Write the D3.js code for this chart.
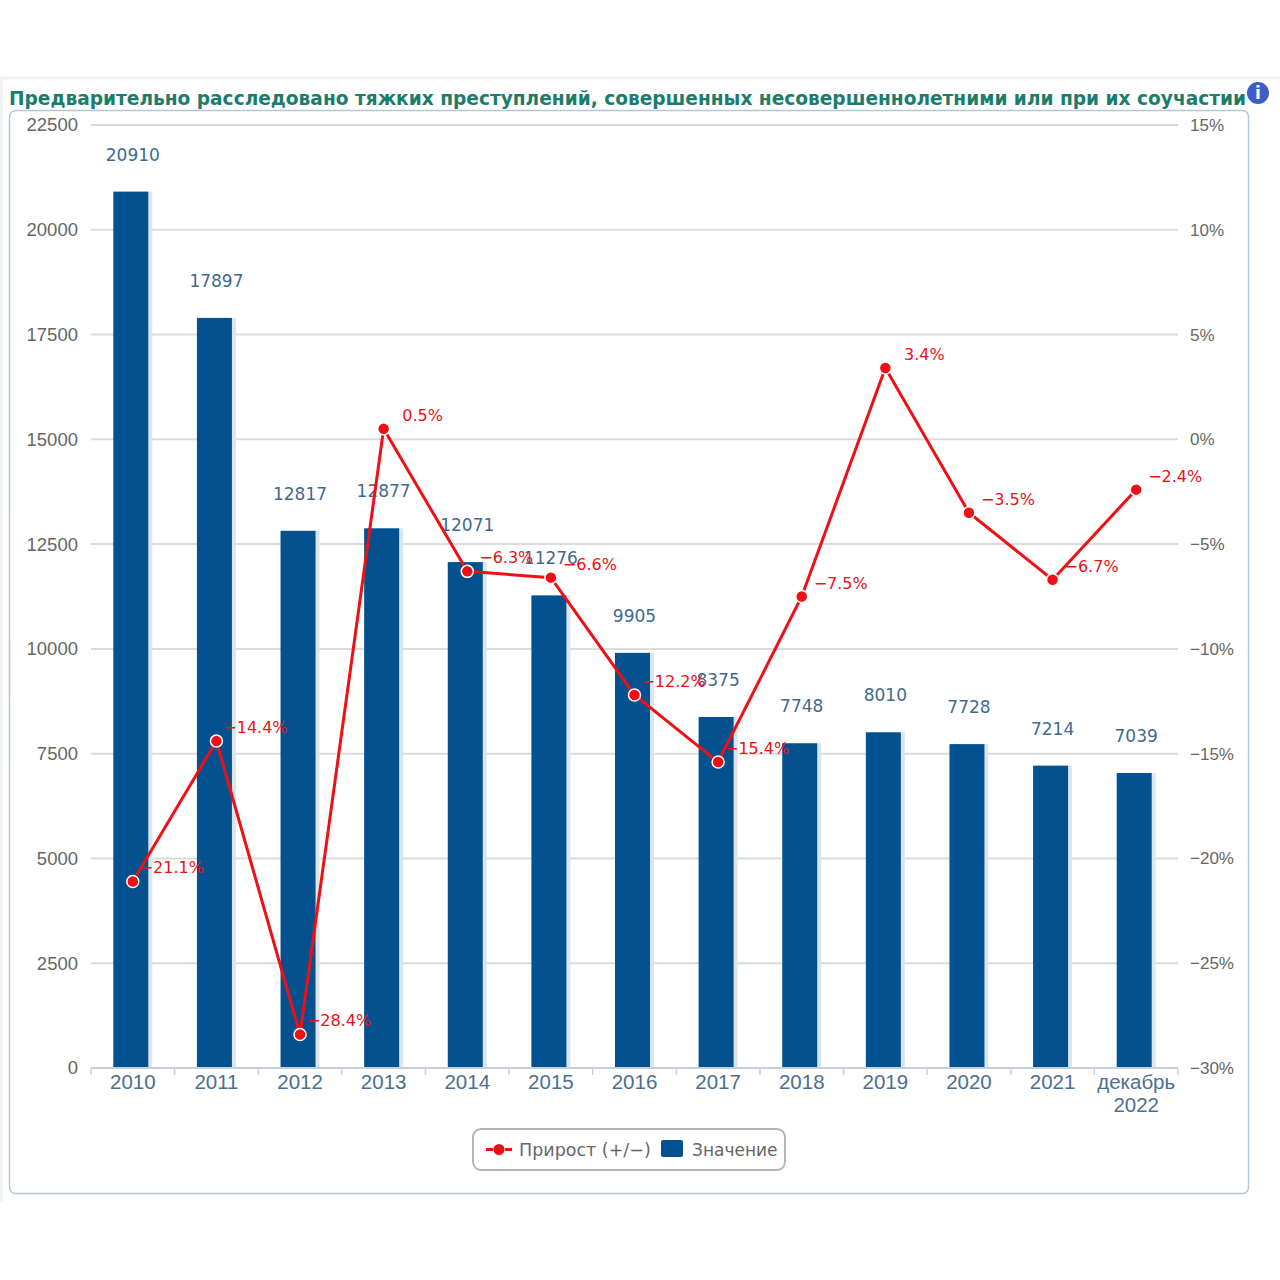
<!doctype html>
<html>
<head>
<meta charset="utf-8" />
<title>chart</title>
<script src="https://cdn.jsdelivr.net/npm/d3@7"></script>
<style>
  html, body { margin: 0; background: #fff; }
  svg { display: block; font-family: "DejaVu Sans", sans-serif; }
</style>
</head>
<body>
<script>
const title = 'Предварительно расследовано тяжких преступлений, совершенных несовершеннолетними или при их соучастии'
const categories = ['2010', '2011', '2012', '2013', '2014', '2015', '2016', '2017', '2018', '2019', '2020', '2021', 'декабрь 2022']
const values = [20910, 17897, 12817, 12877, 12071, 11276, 9905, 8375, 7748, 8010, 7728, 7214, 7039]
const growth = [-21.1, -14.4, -28.4, 0.5, -6.3, -6.6, -12.2, -15.4, -7.5, 3.4, -3.5, -6.7, -2.4]
const valueTicks = [0, 2500, 5000, 7500, 10000, 12500, 15000, 17500, 20000, 22500]
const growthTicks = [-30, -25, -20, -15, -10, -5, 0, 5, 10, 15]

const blue = '#03528f', red = '#f00f14'
const pct = d => String(d).replace('-', '\u2212') + '%'

const svg = d3.select('body').append('svg').attr('width', 1280).attr('height', 1280)

const x = d3.scaleBand().domain(categories).range([91, 1178])
const y = d3.scaleLinear().domain([0, 22500]).range([1068, 125])
const y2 = d3.scaleLinear().domain([-30, 15]).range([1068, 125])

// page frame
svg.append('path').attr('d', 'M1.5 1202V78H1280').attr('fill', 'none').attr('stroke', '#f0f2f2').attr('stroke-width', 3)
svg.append('rect').attr('x', 9.5).attr('y', 110.5).attr('width', 1239).attr('height', 1083).attr('rx', 6)
  .attr('fill', '#fff').attr('stroke', '#b4c6d6').attr('stroke-width', 1.5)

svg.append('text').attr('x', 9).attr('y', 105).attr('textLength', 1237).attr('lengthAdjust', 'spacingAndGlyphs')
  .attr('font-size', 19).attr('font-weight', 'bold').attr('fill', '#1a7d6c').text(title)

// info icon
const info = svg.append('g').attr('transform', 'translate(1258,93)')
info.append('circle').attr('r', 11).attr('fill', '#3f5cc8')
info.append('text').attr('y', 6).attr('text-anchor', 'middle').attr('font-size', 17).attr('font-weight', 'bold').attr('fill', '#fff').text('i')

// left axis + gridlines
const gLeft = svg.append('g').attr('transform', 'translate(91,0)')
  .call(d3.axisLeft(y).tickValues(valueTicks).tickSize(0).tickPadding(13).tickFormat(d => d))
gLeft.select('.domain').remove()
gLeft.selectAll('text').attr('font-size', 18.5).attr('fill', '#666')

svg.append('g').selectAll('line').data(valueTicks.slice(1)).join('line')
  .attr('x1', 91).attr('x2', 1178).attr('y1', d => y(d)).attr('y2', d => y(d))
  .attr('stroke', '#d9dcdc').attr('stroke-width', 2)

// right axis
const gRight = svg.append('g').attr('transform', 'translate(1178,0)')
  .call(d3.axisRight(y2).tickValues(growthTicks).tickSize(0).tickPadding(12).tickFormat(pct))
gRight.select('.domain').remove()
gRight.selectAll('text').attr('font-size', 17).attr('fill', '#666')

// bars
const barW = 35
const barX = d => x(d) + x.bandwidth() / 2 - barW / 2 - 2
svg.append('g').selectAll('rect').data(categories).join('rect')
  .attr('x', d => barX(d) + 2).attr('y', (d, i) => y(values[i]))
  .attr('width', barW + 2).attr('height', (d, i) => y(0) - y(values[i]))
  .attr('fill', '#dde5ec')
svg.append('g').selectAll('rect').data(categories).join('rect')
  .attr('x', barX).attr('y', (d, i) => y(values[i]))
  .attr('width', barW).attr('height', (d, i) => y(0) - y(values[i]))
  .attr('fill', blue)

// x axis, ticks sit on band edges
svg.append('line').attr('x1', 91).attr('x2', 1178).attr('y1', 1068).attr('y2', 1068)
  .attr('stroke', '#c0d0e0').attr('stroke-width', 2)
svg.append('g').selectAll('line').data(categories.concat('end')).join('line')
  .attr('x1', (d, i) => 91 + i * x.step()).attr('x2', (d, i) => 91 + i * x.step())
  .attr('y1', 1068).attr('y2', 1075).attr('stroke', '#c0d0e0').attr('stroke-width', 1.5)

const gBottom = svg.append('g').attr('transform', 'translate(0,1068)')
  .call(d3.axisBottom(x).tickSize(0).tickPadding(5).tickFormat(''))
gBottom.select('.domain').remove()
gBottom.selectAll('.tick text').each(function (d) {
  const t = d3.select(this).attr('font-size', 20.5).attr('fill', '#4d6f8f').attr('y', 20).attr('dy', null)
  d.split(' ').forEach((w, i) => {
    t.append('tspan').attr('x', 0).attr('y', 21 + i * 22.5).text(w)
  })
})

// value labels
svg.append('g').selectAll('text').data(categories).join('text')
  .attr('x', d => x(d) + x.bandwidth() / 2)
  .attr('y', (d, i) => y(values[i]) - 31)
  .attr('text-anchor', 'middle').attr('font-size', 17).attr('fill', '#3f6a8e')
  .text((d, i) => values[i])

// growth line
const line = d3.line().x(d => x(d.c) + x.bandwidth() / 2).y(d => y2(d.v))
const pts = categories.map((c, i) => ({ c, v: growth[i] }))
svg.append('path').datum(pts).attr('d', line).attr('fill', 'none').attr('stroke', red).attr('stroke-width', 3)
svg.append('g').selectAll('circle').data(pts).join('circle')
  .attr('cx', d => x(d.c) + x.bandwidth() / 2).attr('cy', d => y2(d.v)).attr('r', 6)
  .attr('fill', red).attr('stroke', '#fff').attr('stroke-width', 1.5)
svg.append('g').selectAll('text').data(pts).join('text')
  .attr('x', d => x(d.c) + x.bandwidth() / 2 + 39)
  .attr('y', d => y2(d.v) - 8)
  .attr('text-anchor', 'middle').attr('font-size', 16).attr('fill', red)
  .text(d => pct(d.v))

// legend
const lg = svg.append('g')
lg.append('rect').attr('x', 473).attr('y', 1129).attr('width', 312).attr('height', 41).attr('rx', 8)
  .attr('fill', '#fff').attr('stroke', '#b5b5b5').attr('stroke-width', 2)
lg.append('line').attr('x1', 486).attr('x2', 512).attr('y1', 1149.5).attr('y2', 1149.5)
  .attr('stroke', red).attr('stroke-width', 3).attr('stroke-dasharray', '7 12 7')
lg.append('circle').attr('cx', 499).attr('cy', 1149.5).attr('r', 5.5).attr('fill', red)
lg.append('text').attr('x', 519).attr('y', 1156).attr('font-size', 17.5).attr('fill', '#666').text('Прирост (+/\u2212)')
lg.append('rect').attr('x', 661).attr('y', 1140).attr('width', 22).attr('height', 17).attr('rx', 2).attr('fill', blue)
lg.append('text').attr('x', 692).attr('y', 1156).attr('font-size', 17).attr('fill', '#666').text('Значение')
</script>
</body>
</html>
